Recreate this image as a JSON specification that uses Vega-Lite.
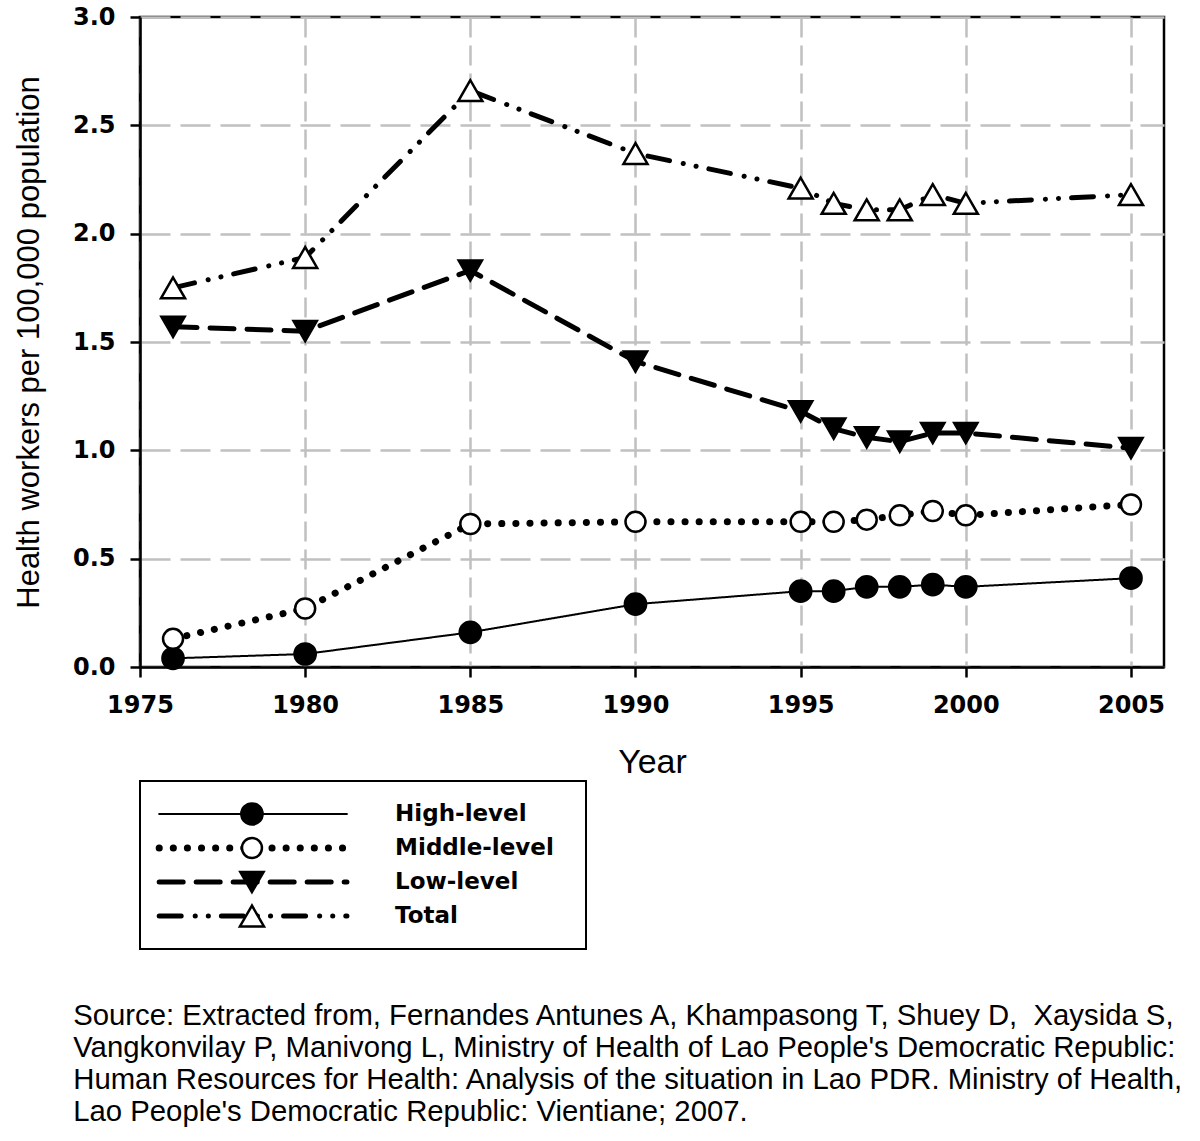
{
  "$schema": "https://vega.github.io/schema/vega-lite/v6.json",
  "background": "white",
  "padding": {"left": 12, "top": 3, "right": 5, "bottom": 10},
  "bounds": "flush",
  "spacing": 114,
  "config": {
    "font": "Liberation Sans",
    "axis": {
      "domainColor": "black", "domainWidth": 2.5,
      "tickColor": "black", "tickWidth": 2.5, "tickSize": 10,
      "labelFont": "DejaVu Sans", "labelFontWeight": "bold", "labelFontSize": 24, "labelColor": "black",
      "titleFont": "Liberation Sans", "titleFontWeight": "normal", "titleFontSize": 31, "titleColor": "black",
      "gridColor": "#c0c0c0", "gridWidth": 2.5
    },
    "title": {"font": "Liberation Sans", "fontWeight": "normal", "color": "black"}
  },
  "title": {
    "text": [
      "Source: Extracted from, Fernandes Antunes A, Khampasong T, Shuey D, \u00a0Xaysida S,",
      "Vangkonvilay P, Manivong L, Ministry of Health of Lao People's Democratic Republic:",
      "Human Resources for Health: Analysis of the situation in Lao PDR. Ministry of Health,",
      "Lao People's Democratic Republic: Vientiane; 2007."
    ],
    "orient": "bottom", "anchor": "start", "frame": "bounds",
    "fontSize": 29.3, "lineHeight": 32, "offset": 52, "dx": 61, "baseline": "top"
  },
  "resolve": {"scale": {"x": "independent", "y": "independent"}},
  "vconcat": [
    {
      "width": 1024,
      "height": 650,
      "view": {"stroke": "black", "strokeWidth": 2.5},
      "data": {"values": [
        {"year": 1976, "series": "High-level", "value": 0.04},
        {"year": 1980, "series": "High-level", "value": 0.06},
        {"year": 1985, "series": "High-level", "value": 0.16},
        {"year": 1990, "series": "High-level", "value": 0.29},
        {"year": 1995, "series": "High-level", "value": 0.35},
        {"year": 1996, "series": "High-level", "value": 0.35},
        {"year": 1997, "series": "High-level", "value": 0.37},
        {"year": 1998, "series": "High-level", "value": 0.37},
        {"year": 1999, "series": "High-level", "value": 0.38},
        {"year": 2000, "series": "High-level", "value": 0.37},
        {"year": 2005, "series": "High-level", "value": 0.41},
        {"year": 1976, "series": "Middle-level", "value": 0.13},
        {"year": 1980, "series": "Middle-level", "value": 0.27},
        {"year": 1985, "series": "Middle-level", "value": 0.66},
        {"year": 1990, "series": "Middle-level", "value": 0.67},
        {"year": 1995, "series": "Middle-level", "value": 0.67},
        {"year": 1996, "series": "Middle-level", "value": 0.67},
        {"year": 1997, "series": "Middle-level", "value": 0.68},
        {"year": 1998, "series": "Middle-level", "value": 0.70},
        {"year": 1999, "series": "Middle-level", "value": 0.72},
        {"year": 2000, "series": "Middle-level", "value": 0.70},
        {"year": 2005, "series": "Middle-level", "value": 0.75},
        {"year": 1976, "series": "Low-level", "value": 1.57},
        {"year": 1980, "series": "Low-level", "value": 1.55},
        {"year": 1985, "series": "Low-level", "value": 1.83},
        {"year": 1990, "series": "Low-level", "value": 1.41},
        {"year": 1995, "series": "Low-level", "value": 1.18},
        {"year": 1996, "series": "Low-level", "value": 1.10},
        {"year": 1997, "series": "Low-level", "value": 1.06},
        {"year": 1998, "series": "Low-level", "value": 1.04},
        {"year": 1999, "series": "Low-level", "value": 1.08},
        {"year": 2000, "series": "Low-level", "value": 1.08},
        {"year": 2005, "series": "Low-level", "value": 1.01},
        {"year": 1976, "series": "Total", "value": 1.75},
        {"year": 1980, "series": "Total", "value": 1.89},
        {"year": 1985, "series": "Total", "value": 2.66},
        {"year": 1990, "series": "Total", "value": 2.37},
        {"year": 1995, "series": "Total", "value": 2.21},
        {"year": 1996, "series": "Total", "value": 2.14},
        {"year": 1997, "series": "Total", "value": 2.11},
        {"year": 1998, "series": "Total", "value": 2.11},
        {"year": 1999, "series": "Total", "value": 2.18},
        {"year": 2000, "series": "Total", "value": 2.14},
        {"year": 2005, "series": "Total", "value": 2.18}
      ]},
      "encoding": {
        "x": {
          "field": "year", "type": "quantitative",
          "scale": {"domain": [1975, 2006], "nice": false, "zero": false},
          "axis": {"values": [1975, 1980, 1985, 1990, 1995, 2000, 2005], "format": "d", "title": "Year",
                   "titleFontSize": 34,
                   "grid": true, "gridDash": [20, 8], "labelPadding": 16, "titlePadding": 28, "labelFlush": false}
        },
        "y": {
          "field": "value", "type": "quantitative",
          "scale": {"domain": [0, 3], "nice": false},
          "axis": {"values": [0, 0.5, 1, 1.5, 2, 2.5, 3], "format": ".1f",
                   "title": "Health workers per 100,000 population",
                   "grid": true, "gridDash": [30, 10], "labelPadding": 15, "titlePadding": 27}
        }
      },
      "layer": [
        {
          "mark": {"type": "line", "stroke": "black", "strokeCap": "round"},
          "encoding": {
            "strokeDash": {"field": "series", "type": "nominal",
              "scale": {"type": "ordinal", "domain": ["High-level", "Middle-level", "Low-level", "Total"],
                        "range": [[1, 0], [0.1, 14], [24, 13], [22, 14, 0.1, 13, 0.1, 13]]},
              "legend": null},
            "strokeWidth": {"field": "series", "type": "nominal",
              "scale": {"type": "ordinal", "domain": ["High-level", "Middle-level", "Low-level", "Total"], "range": [2, 7, 5, 5]},
              "legend": null}
          }
        },
        {
          "mark": {"type": "point", "filled": true, "stroke": "black", "strokeWidth": 2.5, "opacity": 1},
          "encoding": {
            "shape": {"field": "series", "type": "nominal",
              "scale": {"type": "ordinal", "domain": ["High-level", "Middle-level", "Low-level", "Total"],
                        "range": ["circle", "circle", "triangle-down", "triangle-up"]},
              "legend": null},
            "fill": {"field": "series", "type": "nominal",
              "scale": {"type": "ordinal", "domain": ["High-level", "Middle-level", "Low-level", "Total"],
                        "range": ["black", "white", "black", "white"]},
              "legend": null},
            "size": {"field": "series", "type": "nominal",
              "scale": {"type": "ordinal", "domain": ["High-level", "Middle-level", "Low-level", "Total"],
                        "range": [450, 400, 540, 580]},
              "legend": null}
          }
        }
      ]
    },
    {
      "width": 446,
      "height": 168,
      "view": {"stroke": "black", "strokeWidth": 2},
      "data": {"values": [
        {"series": "High-level"},
        {"series": "Middle-level"},
        {"series": "Low-level"},
        {"series": "Total"}
      ]},
      "encoding": {
        "y": {"field": "series", "type": "nominal",
              "scale": {"type": "point", "domain": ["High-level", "Middle-level", "Low-level", "Total"], "padding": 0.97},
              "axis": null}
      },
      "layer": [
        {
          "mark": {"type": "rule", "stroke": "black", "strokeCap": "round"},
          "encoding": {
            "x": {"datum": 4.3, "type": "quantitative", "scale": {"domain": [0, 100], "nice": false, "zero": false}, "axis": null},
            "x2": {"datum": 46.4},
            "strokeDash": {"field": "series", "type": "nominal",
              "scale": {"type": "ordinal", "domain": ["High-level", "Middle-level", "Low-level", "Total"],
                        "range": [[1, 0], [0.1, 14], [24, 13], [22, 14, 0.1, 13, 0.1, 13]]},
              "legend": null},
            "strokeWidth": {"field": "series", "type": "nominal",
              "scale": {"type": "ordinal", "domain": ["High-level", "Middle-level", "Low-level", "Total"], "range": [2, 7, 5, 5]},
              "legend": null}
          }
        },
        {
          "mark": {"type": "point", "filled": true, "stroke": "black", "strokeWidth": 2.5, "opacity": 1},
          "encoding": {
            "x": {"datum": 25.1, "type": "quantitative"},
            "shape": {"field": "series", "type": "nominal",
              "scale": {"type": "ordinal", "domain": ["High-level", "Middle-level", "Low-level", "Total"],
                        "range": ["circle", "circle", "triangle-down", "triangle-up"]},
              "legend": null},
            "fill": {"field": "series", "type": "nominal",
              "scale": {"type": "ordinal", "domain": ["High-level", "Middle-level", "Low-level", "Total"],
                        "range": ["black", "white", "black", "white"]},
              "legend": null},
            "size": {"field": "series", "type": "nominal",
              "scale": {"type": "ordinal", "domain": ["High-level", "Middle-level", "Low-level", "Total"],
                        "range": [450, 400, 540, 580]},
              "legend": null}
          }
        },
        {
          "mark": {"type": "text", "align": "left", "baseline": "middle", "font": "DejaVu Sans", "fontWeight": "bold", "fontSize": 23, "color": "black"},
          "encoding": {
            "x": {"datum": 57.2, "type": "quantitative"},
            "text": {"field": "series"}
          }
        }
      ]
    }
  ]
}
